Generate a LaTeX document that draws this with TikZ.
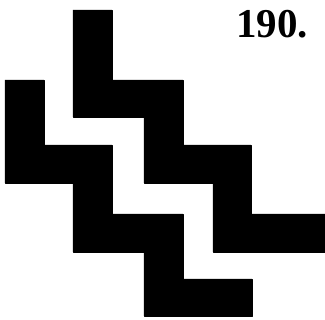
\documentclass[tikz,border=0pt]{standalone}
\usepackage{fontspec}
\setmainfont{Liberation Serif}
\usetikzlibrary{positioning}

\begin{document}
\begin{tikzpicture}[
  x=1pt, y=-1pt,
  stair/.style={fill=black, draw=black, line width=0.6pt, line join=round},
  numlbl/.style={font=\bfseries\fontsize{41}{41}\selectfont, inner sep=0pt, anchor=north east},
]

% --- Frame ---
\useasboundingbox (0,0) rectangle (325,320);

% --- Upper staircase ---
\fill[stair] (73,10) -- (112,10) -- (112,80) -- (183,80) -- (183,145)
  -- (251,145) -- (251,214) -- (325,214) -- (325,252) -- (213,252)
  -- (213,183) -- (144,183) -- (144,117) -- (73,117) -- cycle;

% --- Lower staircase ---
\fill[stair] (5,80) -- (44,80) -- (44,145) -- (112,145) -- (112,214)
  -- (183,214) -- (183,279) -- (252,279) -- (252,316) -- (144,316)
  -- (144,252) -- (73,252) -- (73,183) -- (5,183) -- cycle;

% --- Number ---
\node[numlbl] (num) at (308,10) {190.};

\end{tikzpicture}
\end{document}
